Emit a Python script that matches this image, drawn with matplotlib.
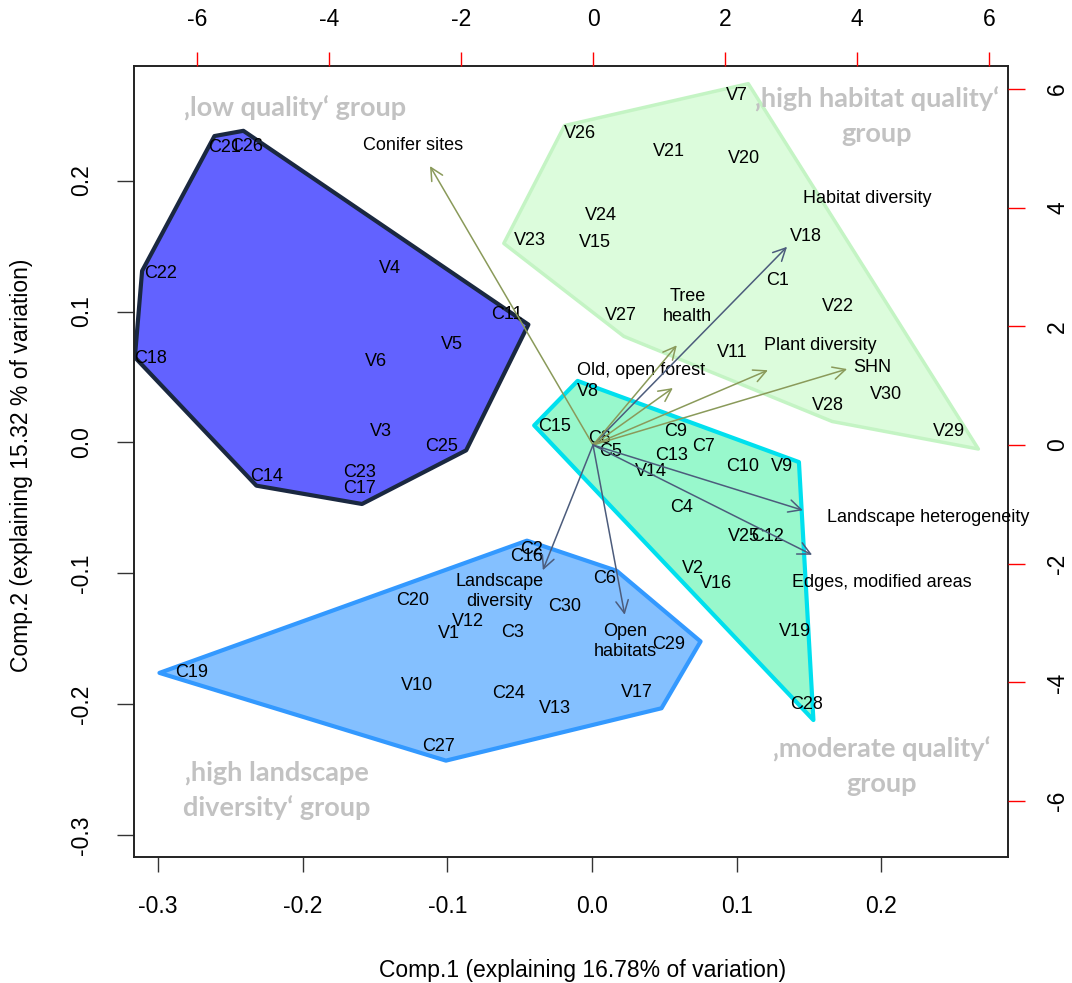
import numpy as np
import matplotlib.pyplot as plt
from matplotlib.patches import Polygon

# site scores on Comp.1 / Comp.2, one set of lists per group
low_names = ['C21', 'C26', 'C22', 'C18', 'V4', 'C11', 'V5', 'V6', 'V3', 'C25', 'C14', 'C23', 'C17']
low_x = [-0.254, -0.239, -0.298, -0.305, -0.140, -0.059, -0.097, -0.149, -0.146, -0.104, -0.225, -0.161, -0.161]
low_y = [0.225, 0.226, 0.129, 0.064, 0.133, 0.098, 0.075, 0.062, 0.008, -0.003, -0.026, -0.023, -0.035]

hab_names = ['V7', 'V26', 'V21', 'V20', 'V24', 'V23', 'V15', 'V18', 'C1', 'V22', 'V27', 'V11', 'V28', 'V30', 'V29']
hab_x = [0.100, -0.008, 0.053, 0.105, 0.006, -0.043, 0.002, 0.148, 0.128, 0.170, 0.020, 0.097, 0.163, 0.203, 0.247]
hab_y = [0.265, 0.236, 0.222, 0.217, 0.173, 0.154, 0.153, 0.157, 0.124, 0.104, 0.097, 0.069, 0.028, 0.037, 0.008]

mod_names = ['V8', 'C15', 'C8', 'C5', 'C9', 'C7', 'C13', 'V14', 'C10', 'V9', 'C4', 'V25', 'C12', 'V2', 'V16', 'V19', 'C28']
mod_x = [-0.003, -0.026, 0.005, 0.013, 0.058, 0.077, 0.055, 0.041, 0.104, 0.131, 0.062, 0.105, 0.121, 0.070, 0.086, 0.140, 0.148]
mod_y = [0.039, 0.012, 0.003, -0.007, 0.008, -0.003, -0.010, -0.022, -0.018, -0.018, -0.050, -0.072, -0.072, -0.096, -0.108, -0.144, -0.200]

land_names = ['C2', 'C16', 'C20', 'V12', 'V1', 'C3', 'C19', 'V10', 'C24', 'C27', 'C6', 'C30', 'C29', 'V17', 'V13']
land_x = [-0.042, -0.045, -0.124, -0.086, -0.099, -0.055, -0.277, -0.121, -0.058, -0.106, 0.009, -0.019, 0.053, 0.031, -0.026]
land_y = [-0.082, -0.087, -0.121, -0.137, -0.146, -0.145, -0.176, -0.186, -0.192, -0.232, -0.104, -0.125, -0.154, -0.191, -0.203]

# group outlines (drawn by hand on the original)
low_hull_x = [-0.261, -0.241, -0.044, -0.087, -0.159, -0.232, -0.316, -0.311]
low_hull_y = [0.234, 0.238, 0.090, -0.006, -0.047, -0.033, 0.065, 0.131]
hab_hull_x = [-0.019, 0.108, 0.267, 0.166, 0.022, -0.061]
hab_hull_y = [0.242, 0.274, -0.005, 0.016, 0.081, 0.152]
mod_hull_x = [-0.010, 0.143, 0.153, -0.040]
mod_hull_y = [0.047, -0.015, -0.212, 0.013]
land_hull_x = [-0.299, -0.045, 0.017, 0.075, 0.048, -0.101]
land_hull_y = [-0.176, -0.075, -0.098, -0.152, -0.203, -0.243]

# variable loadings (top / right axes)
var_names = ['Conifer sites', 'Habitat diversity', 'Tree\nhealth', 'Old, open forest', 'Plant diversity',
             'SHN', 'Landscape heterogeneity', 'Edges, modified areas', 'Open\nhabitats', 'Landscape\ndiversity']
var_u = [-2.47, 2.94, 1.27, 1.21, 2.65, 3.85, 3.18, 3.32, 0.48, -0.76]
var_v = [4.70, 3.34, 1.68, 0.96, 1.26, 1.28, -1.10, -1.85, -2.86, -2.11]
var_green = [True, False, True, True, True, True, False, False, False, False]
var_lab_x = [-0.124, 0.190, 0.066, 0.034, 0.158, 0.194, 0.232, 0.200, 0.023, -0.064]
var_lab_y = [0.227, 0.186, 0.104, 0.055, 0.074, 0.057, -0.057, -0.107, -0.152, -0.114]

pc_ticks = [-0.3, -0.2, -0.1, 0.0, 0.1, 0.2]
load_ticks = [-6, -4, -2, 0, 2, 4, 6]

plt.rcParams['font.family'] = ['Liberation Sans', 'DejaVu Sans']

fig = plt.figure(figsize=(10.72, 9.83), dpi=100)
pos = [134 / 1072, 1 - 857 / 983, 874 / 1072, 791 / 983]
ax = fig.add_axes(pos)
lim = (-0.3166, 0.2875)
ax.set_xlim(lim)
ax.set_ylim(lim)

groups = [
    (hab_hull_x, hab_hull_y, '#dcfcdc', '#c4f4c4', 2.5),
    (mod_hull_x, mod_hull_y, '#98f8cc', '#00e0ee', 3.0),
    (land_hull_x, land_hull_y, '#84c0ff', '#3399ff', 3.0),
    (low_hull_x, low_hull_y, '#6262ff', '#1a2840', 3.0),
]
for hx, hy, fc, ec, lw in groups:
    ax.add_patch(Polygon(np.column_stack([hx, hy]), closed=True, facecolor=fc,
                         edgecolor=ec, linewidth=lw, joinstyle='round'))

for names, xs, ys in [(low_names, low_x, low_y), (hab_names, hab_x, hab_y),
                      (mod_names, mod_x, mod_y), (land_names, land_x, land_y)]:
    for n, x, y in zip(names, xs, ys):
        ax.text(x, y, n, ha='center', va='center', fontsize=13, color='black')

# group captions
cap = dict(family=['Lato', 'DejaVu Sans'], fontweight='bold', fontsize=19.5, color='#c2c2c2',
           ha='center', va='center', linespacing=1.5)
ax.text(-0.205, 0.255, '\u201alow quality\u2018 group', **cap)
ax.text(0.197, 0.249, '\u201ahigh habitat quality\u2018\ngroup', **cap)
ax.text(-0.218, -0.2655, '\u201ahigh landscape\ndiversity\u2018 group', **cap)
ax.text(0.200, -0.2475, '\u201amoderate quality\u2018\ngroup', **cap)

ax.set_xticks(pc_ticks)
ax.set_yticks(pc_ticks)
ax.set_xticklabels(['%.1f' % t for t in pc_ticks])
ax.set_yticklabels(['%.1f' % t for t in pc_ticks], rotation=90, va='center')
ax.tick_params(axis='x', length=10.5, width=1, pad=17, labelsize=16.5, color='#333333')
ax.tick_params(axis='y', length=12.5, width=1, pad=17, labelsize=16.5, color='#333333')
for s in ax.spines.values():
    s.set_linewidth(1.4)
    s.set_color('#222222')

# loadings axes on top / right
ax2 = fig.add_axes(pos, frameon=False)
ax2.patch.set_visible(False)
ax2.set_xlim(-6.955, 6.288)
ax2.set_ylim(-6.942, 6.386)
ax2.xaxis.tick_top()
ax2.yaxis.tick_right()
ax2.set_xticks(load_ticks)
ax2.set_yticks(load_ticks)
ax2.set_xticklabels([str(t) for t in load_ticks])
ax2.set_yticklabels([str(t) for t in load_ticks], rotation=90, va='center')
ax2.tick_params(axis='x', length=10, width=1, pad=15, labelsize=16.5, color='red')
ax2.tick_params(axis='y', length=12.5, width=1, pad=15, labelsize=16.5, color='red')

for u, v, g in zip(var_u, var_v, var_green):
    c = '#8a9a5a' if g else '#4c5c7c'
    ax2.annotate('', xy=(u, v), xytext=(0, 0),
                 arrowprops=dict(arrowstyle='->,head_length=0.9,head_width=0.45',
                                 color=c, lw=1.1, shrinkA=0, shrinkB=0))

for n, x, y in zip(var_names, var_lab_x, var_lab_y):
    ax.text(x, y, n, ha='center', va='center', fontsize=13, color='black', zorder=5)

fig.text(583 / 1072, 1 - 970 / 983, 'Comp.1 (explaining 16.78% of variation)',
         ha='center', va='center', fontsize=16.5)
fig.text(22 / 1072, 1 - 465 / 983, 'Comp.2 (explaining 15.32 % of variation)',
         ha='center', va='center', rotation=90, fontsize=16.5)

fig.savefig('out.png', dpi=100)
